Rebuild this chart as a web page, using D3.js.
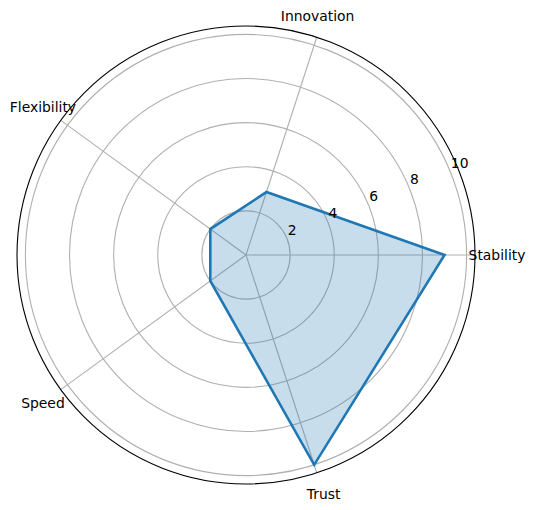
<!DOCTYPE html>
<html>
<head>
<meta charset="utf-8">
<script src="https://d3js.org/d3.v7.min.js"></script>
<style>
  body { margin: 0; background: #fff; }
  text { font-family: "DejaVu Sans", sans-serif; font-size: 13.9px; fill: #000; }
</style>
</head>
<body>
<svg id="chart" width="534" height="510"></svg>
<script>
// Radar chart data
const categories = ['Stability', 'Innovation', 'Flexibility', 'Speed', 'Trust'];
const values = [9, 3, 2, 2, 10];
const radialTicks = [2, 4, 6, 8, 10];

const cx = 246, cy = 255;
const outerR = 229;
const rMax = 10.38;

const svg = d3.select('#chart');
const g = svg.append('g').attr('transform', `translate(${cx},${cy})`);

const r = d3.scaleLinear().domain([0, rMax]).range([0, outerR]);
// angle in radians, counter-clockwise from east (matplotlib style)
const angle = d3.scalePoint().domain(categories).range([0, 2 * Math.PI * (categories.length - 1) / categories.length]);

const px = (a, rr) => rr * Math.cos(a);
const py = (a, rr) => -rr * Math.sin(a);

// grid circles
g.append('g').selectAll('circle')
  .data(radialTicks)
  .enter().append('circle')
  .attr('r', d => r(d))
  .attr('fill', 'none')
  .attr('stroke', '#b0b0b0')
  .attr('stroke-width', 1.1);

// spokes
g.append('g').selectAll('line')
  .data(categories)
  .enter().append('line')
  .attr('x1', 0).attr('y1', 0)
  .attr('x2', d => px(angle(d), outerR))
  .attr('y2', d => py(angle(d), outerR))
  .attr('stroke', '#b0b0b0')
  .attr('stroke-width', 1.1);

// data polygon
const pts = categories.map((c, i) => [px(angle(c), r(values[i])), py(angle(c), r(values[i]))]);
const line = d3.line().curve(d3.curveLinearClosed);

g.append('path')
  .attr('d', line(pts))
  .attr('fill', '#1f77b4')
  .attr('fill-opacity', 0.25)
  .attr('stroke', 'none');

g.append('path')
  .attr('d', line(pts))
  .attr('fill', 'none')
  .attr('stroke', '#1f77b4')
  .attr('stroke-width', 2.6)
  .attr('stroke-linejoin', 'miter');

// outer frame
g.append('circle')
  .attr('r', outerR)
  .attr('fill', 'none')
  .attr('stroke', '#000')
  .attr('stroke-width', 1.1);

// radial tick labels at 22.5 degrees
const labelA = 22.5 * Math.PI / 180;
g.append('g').selectAll('text')
  .data(radialTicks)
  .enter().append('text')
  .attr('x', d => px(labelA, r(d)) + 1)
  .attr('y', d => py(labelA, r(d)) - 3)
  .attr('text-anchor', 'start')
  .text(d => d);

// category labels
g.append('g').selectAll('text')
  .data(categories)
  .enter().append('text')
  .attr('x', d => px(angle(d), outerR + 22) - (d === 'Innovation' ? 6 : 0))
  .attr('y', d => py(angle(d), outerR + 22))
  .attr('text-anchor', 'middle')
  .attr('dominant-baseline', 'central')
  .text(d => d);
</script>
</body>
</html>
